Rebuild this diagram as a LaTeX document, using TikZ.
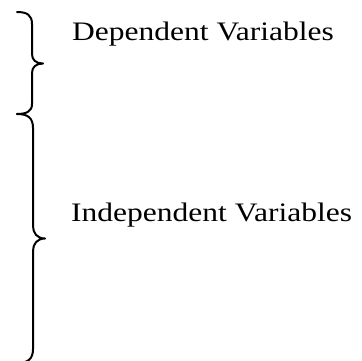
\documentclass[tikz,border=0pt]{standalone}
\usepackage{fontspec}
\setmainfont{Liberation Serif}
\usepackage{tikz}

\tikzset{
bracket/.style={line width=2pt, line cap=round, line join=round},
vartext/.style={anchor=base west, inner sep=0pt, font=\fontsize{26.7}{30}\selectfont}
}

\begin{document}
\begin{tikzpicture}[x=1pt, y=-1pt]
\useasboundingbox (0,0) rectangle (362,360);
\clip (0,0) rectangle (362,360);

% upper brace
\draw[bracket] (17,12) .. controls (27,12) and (32,15) .. (32,24)
  -- (32,54) .. controls (32,60) and (36,63.5) .. (43,63.5)
  .. controls (36,63.5) and (32,67) .. (32,73)
  -- (32,104) .. controls (32,111) and (27,114) .. (17,114);

% lower brace
\draw[bracket] (17,114) .. controls (28,114) and (33,118) .. (33,128)
  -- (33,226) .. controls (33,233) and (37,238.5) .. (45,238.5)
  .. controls (37,238.5) and (33,244) .. (33,251)
  -- (33,349) .. controls (33,359) and (28,363) .. (17,363);

\node[vartext] (dep) at (72,40) {\scalebox{1.18}[1]{Dependent Variables}};
\node[vartext] (indep) at (71,221) {\scalebox{1.18}[1]{Independent Variables}};
\end{tikzpicture}
\end{document}
